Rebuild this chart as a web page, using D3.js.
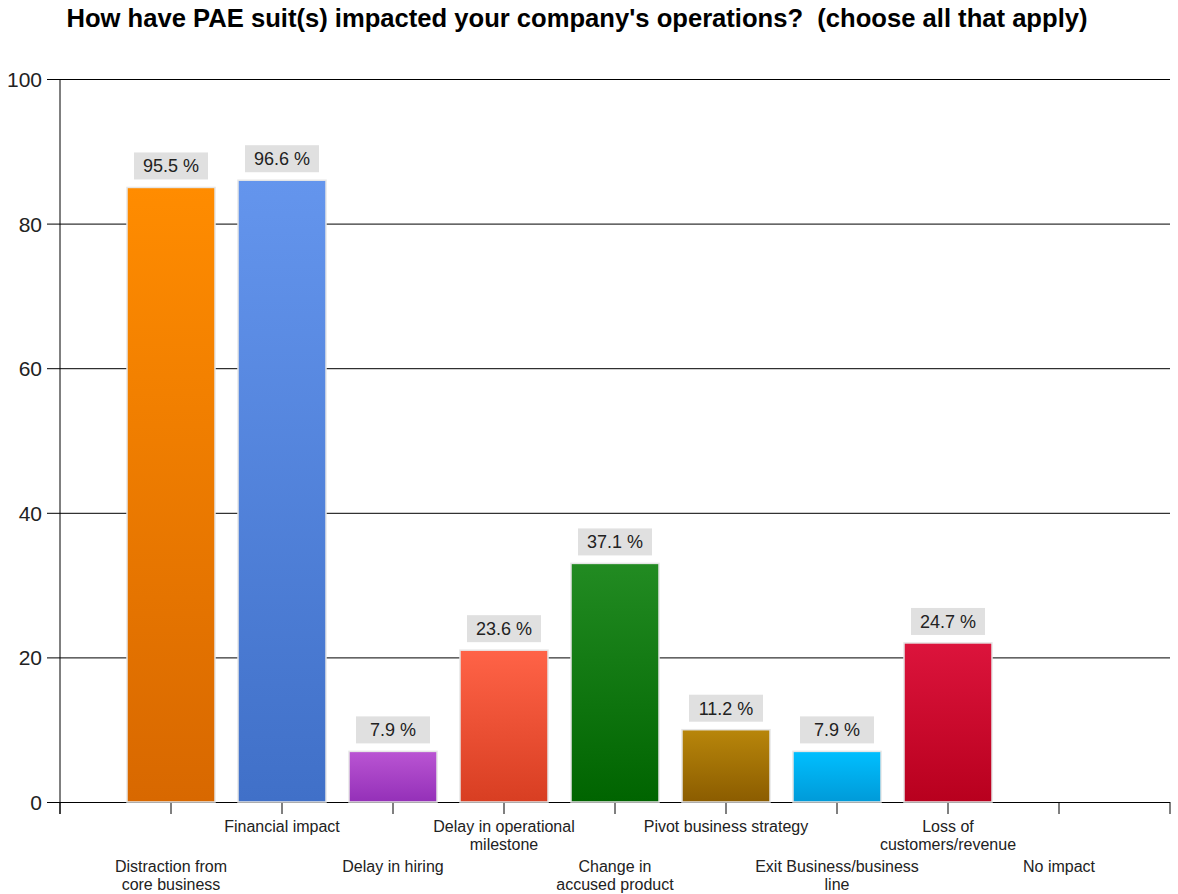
<!DOCTYPE html>
<html><head><meta charset="utf-8">
<script src="https://cdn.jsdelivr.net/npm/d3@7/dist/d3.min.js"></script>
<style>body{margin:0;background:#fff}svg{display:block}text{font-family:"Liberation Sans",Arial,sans-serif}</style>
</head><body>
<svg id="c" width="1178" height="894"></svg>
<script>
const title = "How have PAE suit(s) impacted your company's operations?  (choose all that apply)";
const categories = [
  ["Distraction from","core business"],
  ["Financial impact"],
  ["Delay in hiring"],
  ["Delay in operational","milestone"],
  ["Change in","accused product"],
  ["Pivot business strategy"],
  ["Exit Business/business","line"],
  ["Loss of","customers/revenue"],
  ["No impact"]
];
const counts = [85, 86, 7, 21, 33, 10, 7, 22, 0];
const percentLabels = ["95.5 %","96.6 %","7.9 %","23.6 %","37.1 %","11.2 %","7.9 %","24.7 %",null];
const yTicks = [0,20,40,60,80,100];
const colorsTop = ["#ff8c00","#6495ed","#ba55d3","#ff6347","#228b22","#b8860b","#00bfff","#dc143c",null];
const colorsBot = ["#d86800","#4070c8","#9430b8","#d83e22","#006400","#8b5c00","#009ad8","#b8001e",null];

const svg = d3.select("#c");
const x = d3.scaleLinear().domain([0,10]).range([60,1170]);
const y = d3.scaleLinear().domain([0,100]).range([802,79]);

const defs = svg.append("defs");
categories.forEach((c,i)=>{
  if(!colorsTop[i]) return;
  const g = defs.append("linearGradient").attr("id","g"+i).attr("x1",0).attr("y1",0).attr("x2",0).attr("y2",1);
  g.append("stop").attr("offset","0%").attr("stop-color",colorsTop[i]);
  g.append("stop").attr("offset","100%").attr("stop-color",colorsBot[i]);
});

// title
svg.append("text").attr("x",577).attr("y",27).attr("text-anchor","middle")
  .attr("xml:space","preserve").style("white-space","pre")
  .attr("font-size",25.6).attr("font-weight","bold").attr("fill","#000").text(title);

// gridlines + y labels
const yAxis = d3.axisLeft(y).tickValues(yTicks).tickSize(-(1170-60)).tickSizeOuter(0).tickPadding(18).tickFormat(d3.format("d"));
const ga = svg.append("g").attr("transform","translate(60,0)").call(yAxis);
ga.select(".domain").remove();
ga.selectAll(".tick line").attr("x1",-13).attr("stroke","#000");
ga.selectAll(".tick text").attr("font-size",21).attr("fill","#222").attr("font-family","'Liberation Sans',Arial,sans-serif").attr("dy","0.36em");

// y axis line
svg.append("line").attr("x1",60).attr("x2",60).attr("y1",y(100)).attr("y2",y(0)+12).attr("stroke","#000");
// x ticks
const xt = d3.range(0,11);
svg.selectAll(".xt").data(xt).enter().append("line")
  .attr("x1",d=>x(d)).attr("x2",d=>x(d)).attr("y1",y(0)).attr("y2",y(0)+12).attr("stroke","#000");

// bars
const bw = 88;
svg.selectAll(".bar").data(counts.map((v,i)=>({v,i})).filter(d=>d.v>0)).enter().append("rect")
  .attr("x",d=>x(d.i+1)-bw/2).attr("width",bw)
  .attr("y",d=>y(d.v)).attr("height",d=>y(0)-y(d.v))
  .attr("fill",d=>`url(#g${d.i})`).attr("stroke","#e6e6e6").attr("stroke-width",1.5);

// value labels
const lab = svg.selectAll(".lab").data(counts.map((v,i)=>({v,i})).filter(d=>percentLabels[d.i])).enter().append("g");
lab.append("rect").attr("x",d=>x(d.i+1)-37).attr("width",74).attr("y",d=>y(d.v)-35).attr("height",27).attr("fill","#e0e0e0");
lab.append("text").attr("x",d=>x(d.i+1)).attr("y",d=>y(d.v)-15).attr("text-anchor","middle")
  .attr("font-size",18).attr("fill","#222").text(d=>percentLabels[d.i]);

// category labels
categories.forEach((lines,i)=>{
  const base = (i%2===1) ? 832 : 872;
  const t = svg.append("text").attr("x",x(i+1)).attr("y",base).attr("text-anchor","middle").attr("font-size",16).attr("fill","#222");
  lines.forEach((l,j)=>t.append("tspan").attr("x",x(i+1)).attr("dy",j===0?0:18).text(l));
});
</script>
</body></html>
